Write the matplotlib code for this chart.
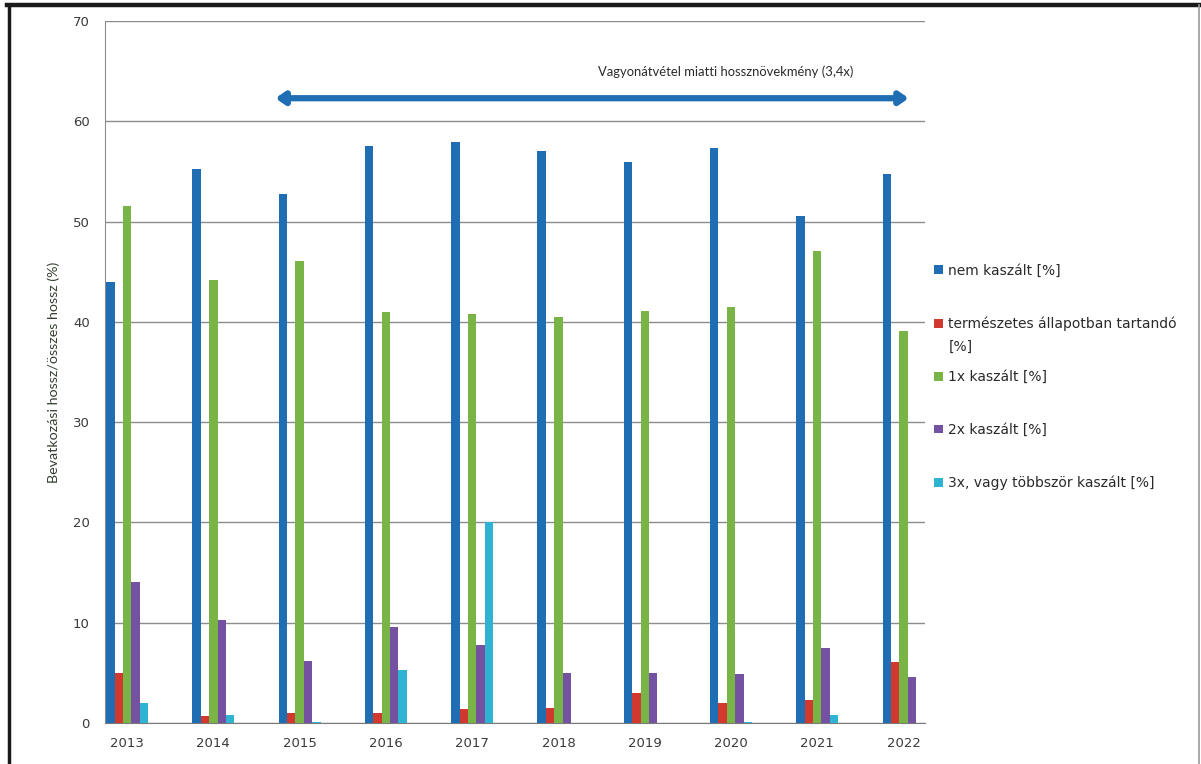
import numpy as np
import matplotlib
matplotlib.use("Agg")
import matplotlib.pyplot as plt
from matplotlib.lines import Line2D

plt.rcParams['font.family'] = ['DejaVu Sans']

years = ["2013", "2014", "2015", "2016", "2017", "2018", "2019", "2020", "2021", "2022"]
series_names = ["nem kaszált [%]",
                "természetes állapotban tartandó",
                "1x kaszált [%]",
                "2x kaszált [%]",
                "3x, vagy többször kaszált [%]"]
nem_kaszalt   = [44.0, 55.2, 52.7, 57.5, 57.9, 57.0, 55.9, 57.3, 50.6, 54.7]
termeszetes   = [5.0, 0.7, 1.0, 1.0, 1.4, 1.5, 3.0, 2.0, 2.3, 6.1]
kaszalt_1x    = [51.6, 44.2, 46.1, 41.0, 40.8, 40.5, 41.1, 41.5, 47.1, 39.1]
kaszalt_2x    = [14.1, 10.3, 6.2, 9.6, 7.8, 5.0, 5.0, 4.9, 7.5, 4.6]
kaszalt_3x    = [2.0, 0.8, 0.1, 5.3, 20.0, 0.0, 0.0, 0.1, 0.8, 0.0]
colors = ["#1F6DB3", "#D2392E", "#78B446", "#7552A1", "#2FB3D3"]
arrow_text = "Vagyonátvétel miatti hossznövekmény (3,4x)"

fig = plt.figure(figsize=(12.01, 7.64), dpi=100)
ax = fig.add_axes([0.0874, 0.0537, 0.6825, 0.9188])

x = np.arange(len(years))
w = 0.097
data = [nem_kaszalt, termeszetes, kaszalt_1x, kaszalt_2x, kaszalt_3x]
for i, (vals, col, name) in enumerate(zip(data, colors, series_names)):
    ax.bar(x + (i - 2) * w, vals, width=w, color=col, label=name, zorder=3)

ax.set_xlim(-0.256, 9.245)
ax.set_ylim(0, 70)
ax.set_yticks(range(0, 71, 10))
ax.set_xticks(x)
ax.set_xticklabels(years)
ax.grid(axis='y', color='#8C8C8C', linewidth=1.0, zorder=0)
ax.tick_params(length=0, labelsize=9.5, colors='#3A3A3A')
ax.tick_params(axis='x', pad=10)
ax.tick_params(axis='y', pad=11)
for s in ['top', 'right']:
    ax.spines[s].set_visible(False)
ax.spines['left'].set_color('#8C8C8C')
ax.spines['bottom'].set_color('#7A7A7A')
ax.set_ylabel("Bevatkozási hossz/összes hossz (%)", fontsize=10.3, family='Lato',
              color='#33402F', labelpad=9)

# double-headed arrow with caption
ax.annotate("", xy=(9.06, 62.3), xytext=(1.72, 62.3),
            arrowprops=dict(arrowstyle='<|-|>,head_length=0.5,head_width=0.35',
                            color='#1F6DB3', lw=4.5, shrinkA=0, shrinkB=0), zorder=4)
ax.text(6.94, 64.9, arrow_text, ha='center', va='center', fontsize=9.4,
        family='Lato', color='#2A2A2A')

leg = ax.legend(loc='upper left', bbox_to_anchor=(1.0, 0.668), frameon=False,
                fontsize=10, labelspacing=2.8, handlelength=0.6, handleheight=0.6,
                handletextpad=0.4, borderaxespad=0.3)
for t in leg.get_texts():
    t.set_color('#2A2A2A')

# second line of the wrapped legend label, placed under the drawn first line
fig.canvas.draw()
bb = leg.get_texts()[1].get_window_extent().transformed(fig.transFigure.inverted())
fig.text(bb.x0, (bb.y0 + bb.y1) / 2 - 23 / 764, "[%]", ha='left', va='center',
         fontsize=10, color='#2A2A2A')

# outer frame of the picture
fig.add_artist(Line2D([0.006, 1.0], [0.9935, 0.9935], color='#1A1A1A', lw=3.2, transform=fig.transFigure))
fig.add_artist(Line2D([0.0075, 0.0075], [0.0, 0.9935], color='#1A1A1A', lw=2.5, transform=fig.transFigure))
fig.add_artist(Line2D([0.998, 0.998], [0.0, 0.9935], color='#9A9A9A', lw=1.2, transform=fig.transFigure))

fig.savefig("out.png", dpi=100)
